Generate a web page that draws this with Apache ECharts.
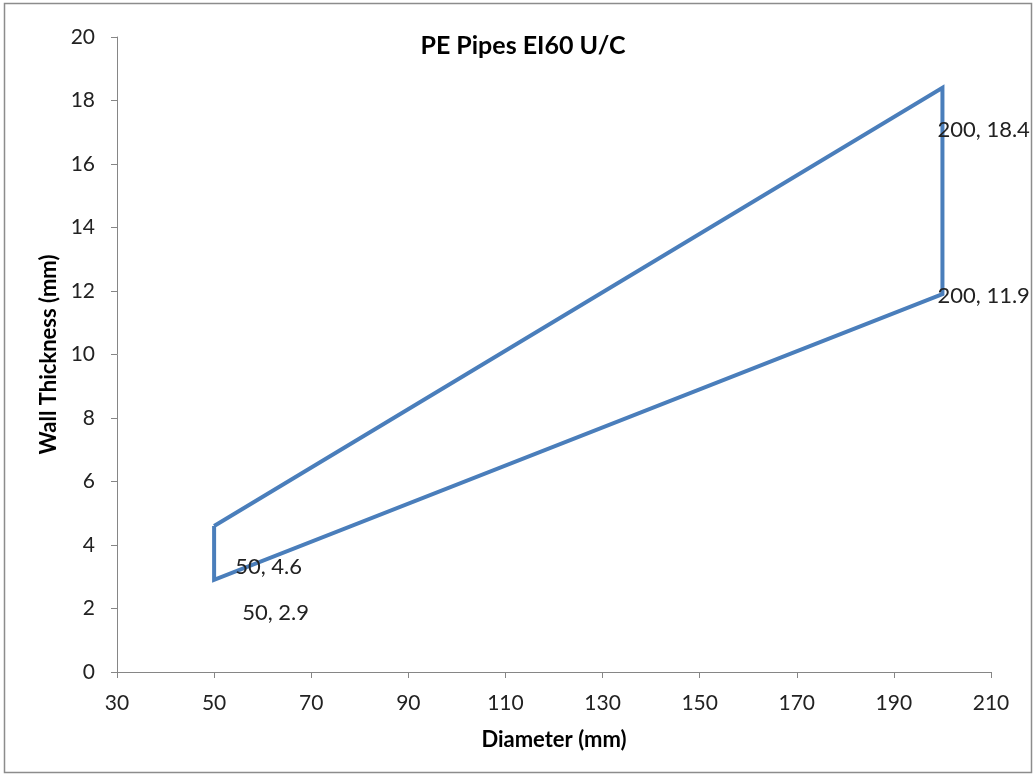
<!DOCTYPE html>
<html>
<head>
<meta charset="utf-8">
<script src="https://cdn.jsdelivr.net/npm/echarts@6/dist/echarts.min.js"></script>
<style>
html,body{margin:0;padding:0;background:#fff;}
#chart{width:1035px;height:775px;}
</style>
</head>
<body>
<div id="chart"></div>
<script>
// Data
var diameters = [50, 200, 200, 50, 50];
var thickness = [4.6, 18.4, 11.9, 2.9, 4.6];
var showLabel = [true, true, true, true, false];
var xTicks = {min: 30, max: 210, interval: 20};
var yTicks = {min: 0, max: 20, interval: 2};

// Label placement (styling only)
var labelOffsets = [[21, 41], [-5, 42], [-5, 2], [28, 33], [0, 0]];

var seriesData = diameters.map(function (x, i) {
  return {
    value: [x, thickness[i]],
    label: {
      show: showLabel[i],
      position: 'right',
      distance: 0,
      offset: labelOffsets[i],
      formatter: x + ', ' + thickness[i]
    }
  };
});

var chart = echarts.init(document.getElementById('chart'), null, {renderer: 'canvas'});
var font = 'Lato, "Open Sans", sans-serif';
chart.setOption({
  animation: false,
  backgroundColor: '#fff',
  title: {
    text: 'PE Pipes EI60 U/C',
    left: 518, top: 28, textAlign: 'center',
    textStyle: {fontFamily: font, fontWeight: 'bold', fontSize: 25, color: '#000'}
  },
  graphic: [{
    type: 'rect', silent: true,
    shape: {x: 4.5, y: 3.5, width: 1027, height: 769},
    style: {fill: null, stroke: '#8c8c8c', lineWidth: 1.5}
  }],
  grid: {left: 117, right: 44, top: 37, bottom: 103, containLabel: false},
  xAxis: {
    type: 'value', min: xTicks.min, max: xTicks.max, interval: xTicks.interval,
    name: 'Diameter (mm)', nameLocation: 'middle', nameGap: 57,
    nameTextStyle: {fontFamily: font, fontWeight: 'bold', fontSize: 22, color: '#000'},
    axisLine: {show: true, lineStyle: {color: '#868686', width: 1}},
    axisTick: {show: true, length: 6, lineStyle: {color: '#868686'}},
    axisLabel: {fontFamily: font, fontSize: 21, color: '#222', margin: 21},
    splitLine: {show: false}
  },
  yAxis: {
    type: 'value', min: yTicks.min, max: yTicks.max, interval: yTicks.interval,
    name: 'Wall Thickness (mm)', nameLocation: 'middle', nameGap: 57,
    nameTextStyle: {fontFamily: font, fontWeight: 'bold', fontSize: 22, color: '#000'},
    axisLine: {show: true, lineStyle: {color: '#868686', width: 1}},
    axisTick: {show: true, length: 6, lineStyle: {color: '#868686'}},
    axisLabel: {fontFamily: font, fontSize: 21, color: '#222', margin: 22},
    splitLine: {show: false}
  },
  series: [{
    type: 'line',
    data: seriesData,
    symbol: 'circle', symbolSize: 0.1,
    itemStyle: {color: '#4A7EBB'},
    lineStyle: {color: '#4A7EBB', width: 4, join: 'miter'},
    label: {fontFamily: font, fontSize: 22, color: '#222'},
    emphasis: {disabled: true}
  }]
});
</script>
</body>
</html>
